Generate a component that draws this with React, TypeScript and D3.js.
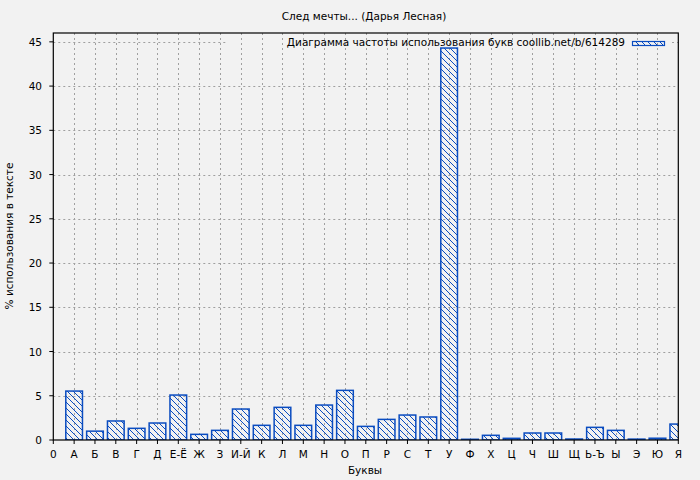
import React from 'react';
import * as d3 from 'd3';

const title = 'След мечты... (Дарья Лесная)';
const legendLabel = 'Диаграмма частоты использования букв coollib.net/b/614289';
const xTitle = 'Буквы';
const yTitle = '% использования в тексте';
const tickLabels = ['0', 'А', 'Б', 'В', 'Г', 'Д', 'Е-Ё', 'Ж', 'З', 'И-Й', 'К', 'Л', 'М', 'Н', 'О', 'П', 'Р', 'С', 'Т', 'У', 'Ф', 'Х', 'Ц', 'Ч', 'Ш', 'Щ', 'Ь-Ъ', 'Ы', 'Э', 'Ю', 'Я'];
const letters = tickLabels.slice(1);
const values = [5.53, 1.0, 2.15, 1.32, 1.92, 5.08, 0.64, 1.09, 3.5, 1.66, 3.69, 1.66, 3.95, 5.61, 1.54, 2.33, 2.82, 2.6, 44.3, 0.08, 0.53, 0.19, 0.79, 0.79, 0.11, 1.43, 1.09, 0.1, 0.2, 1.8];
const yTicks = [0, 5, 10, 15, 20, 25, 30, 35, 40, 45];

const W = 700, H = 480;
const L = 53.3, R = 678.3, T = 33, B = 440;
const BLUE = '#0a4cc0';
const BG = '#f2f2f2';
const FONT = 'DejaVu Sans';
const FS = 10.5;

export default function App() {
  const x = d3.scaleLinear().domain([0, 30]).range([L, R]);
  const y = d3.scaleLinear().domain([0, 46]).range([B, T]);
  const barW = (x(1) - x(0)) * 0.8;
  const key = { x0: 227, x1: 672, y0: 33, y1: 50 };

  return (
    <svg width={W} height={H} style={{ position: 'absolute', left: 0, top: 0 }} fontFamily={FONT}>
      <defs>
        <pattern id="hatch" width={6} height={6} patternUnits="userSpaceOnUse">
          <line x1={-1} y1={-1} x2={7} y2={7} stroke={BLUE} strokeWidth={1} />
          <line x1={-1} y1={5} x2={1} y2={7} stroke={BLUE} strokeWidth={1} />
          <line x1={5} y1={-1} x2={7} y2={1} stroke={BLUE} strokeWidth={1} />
        </pattern>
        <clipPath id="plot">
          <rect x={L} y={T} width={R - L} height={B - T} />
        </clipPath>
      </defs>
      <rect x={0} y={0} width={W} height={H} fill={BG} />
      {/* grid */}
      <g stroke="#a0a0a0" strokeWidth={1} strokeDasharray="2,3">
        {d3.range(1, 30).map(i => (
          <line key={'v' + i} x1={Math.round(x(i)) + 0.5} x2={Math.round(x(i)) + 0.5} y1={T} y2={B} />
        ))}
        {yTicks.filter(t => t > 0).map(t => {
          const yy = Math.round(y(t)) + 0.5;
          if (yy > key.y0 && yy < key.y1) {
            return (
              <g key={'h' + t}>
                <line x1={L} x2={key.x0} y1={yy} y2={yy} />
                <line x1={key.x1} x2={R} y1={yy} y2={yy} />
              </g>
            );
          }
          return <line key={'h' + t} x1={L} x2={R} y1={yy} y2={yy} />;
        })}
      </g>
      {/* bars */}
      <g clipPath="url(#plot)">
        {letters.map((c, i) => {
          const v = values[i];
          const cx = x(i + 1);
          return (
            <rect key={c} x={cx - barW / 2} y={y(v)} width={barW} height={Math.max(0.5, y(0) - y(v))}
              fill="url(#hatch)" stroke={BLUE} strokeWidth={1.5} />
          );
        })}
      </g>
      {/* border */}
      <rect x={L} y={T} width={R - L} height={B - T} fill="none" stroke="#000" strokeWidth={1.2} />
      {/* ticks */}
      <g fontSize={FS} fill="#000">
        {yTicks.map(t => (
          <g key={'yt' + t}>
            <line x1={L - 4} x2={L} y1={y(t)} y2={y(t)} stroke="#000" />
            <text x={42} y={y(t) + 4} textAnchor="end">{t}</text>
          </g>
        ))}
        {tickLabels.map((lab, i) => (
          <g key={'xt' + i}>
            <line x1={x(i)} x2={x(i)} y1={B} y2={B + 4} stroke="#000" />
            <text x={x(i)} y={458} textAnchor="middle">{lab}</text>
          </g>
        ))}
      </g>
      {/* legend */}
      <text x={625} y={46} textAnchor="end" fontSize={FS}>{legendLabel}</text>
      <rect x={632.5} y={41.5} width={32} height={4} fill="url(#hatch)" stroke={BLUE} strokeWidth={1.2} />
      {/* titles */}
      <text x={364} y={20} textAnchor="middle" fontSize={FS}>{title}</text>
      <text x={365} y={474} textAnchor="middle" fontSize={FS}>{xTitle}</text>
      <text transform={`translate(13,236) rotate(-90)`} textAnchor="middle" fontSize={FS}>{yTitle}</text>
    </svg>
  );
}
